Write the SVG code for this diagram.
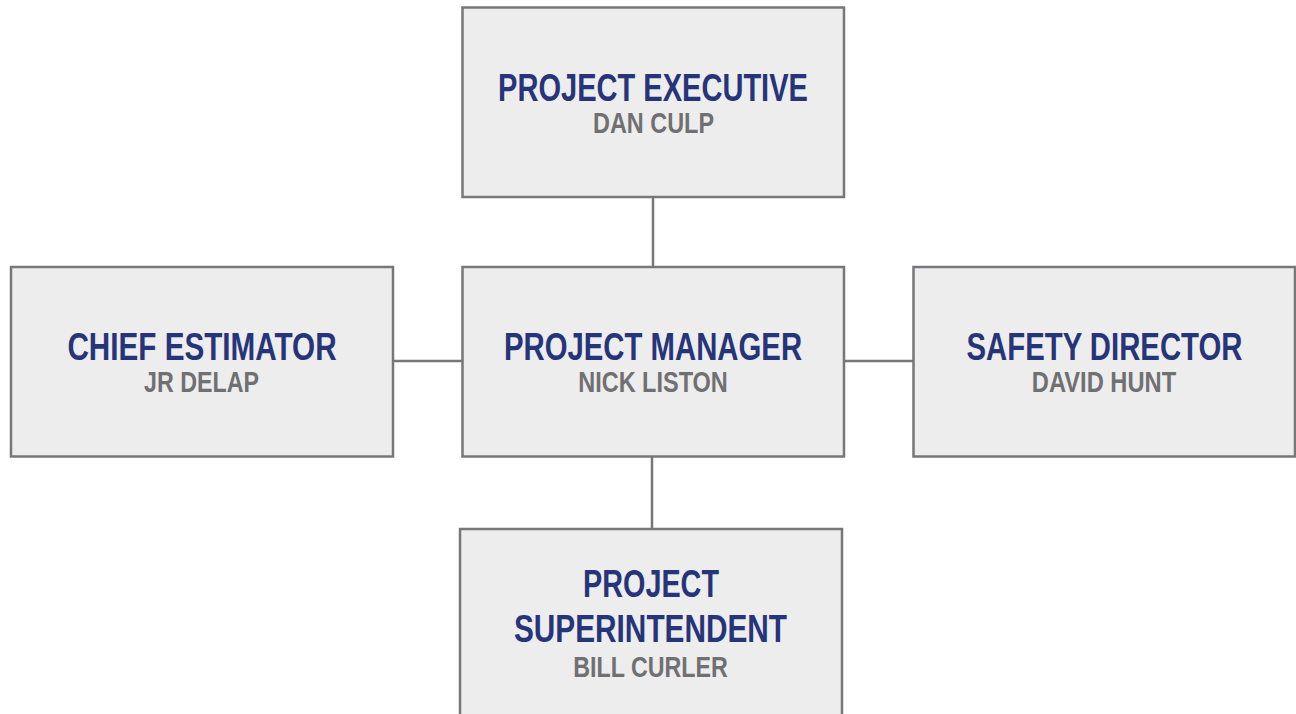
<svg xmlns="http://www.w3.org/2000/svg" width="1296" height="714" viewBox="0 0 1296 714">
<style>
.box{fill:#ededed;stroke:#77777a;stroke-width:2.5}
.conn{stroke:#77777a;stroke-width:2.5;fill:none}
.t{font-family:"Liberation Sans",Arial,sans-serif;font-weight:bold;font-size:39px;fill:#263479;text-anchor:middle}
.n{font-family:"Liberation Sans",Arial,sans-serif;font-weight:bold;font-size:29px;fill:#707073;text-anchor:middle}
</style>
<rect width="1296" height="714" fill="#ffffff"/>
<g id="connectors">
<line class="conn" x1="653" y1="197" x2="653" y2="267"/>
<line class="conn" x1="393" y1="361" x2="462" y2="361"/>
<line class="conn" x1="844" y1="361" x2="913" y2="361"/>
<line class="conn" x1="652" y1="456" x2="652" y2="529"/>
</g>
<g id="project-executive">
<rect class="box" x="462.5" y="7.5" width="381.5" height="189.5"/>
<text class="t" transform="translate(653,101) scale(0.745,1)">PROJECT EXECUTIVE</text>
<text class="n" transform="translate(653.5,133) scale(0.808,1)">DAN CULP</text>
</g>
<g id="chief-estimator">
<rect class="box" x="11" y="267" width="382" height="189.5"/>
<text class="t" transform="translate(202,360) scale(0.761,1)">CHIEF ESTIMATOR</text>
<text class="n" transform="translate(201.5,392) scale(0.802,1)">JR DELAP</text>
</g>
<g id="project-manager">
<rect class="box" x="462.5" y="267" width="381.5" height="189.5"/>
<text class="t" transform="translate(653,360) scale(0.752,1)">PROJECT MANAGER</text>
<text class="n" transform="translate(653,392) scale(0.81,1)">NICK LISTON</text>
</g>
<g id="safety-director">
<rect class="box" x="913.5" y="267" width="381.5" height="189.5"/>
<text class="t" transform="translate(1104.5,360) scale(0.752,1)">SAFETY DIRECTOR</text>
<text class="n" transform="translate(1104,392) scale(0.817,1)">DAVID HUNT</text>
</g>
<g id="project-superintendent">
<rect class="box" x="460" y="529" width="382" height="200"/>
<text class="t" transform="translate(651,597) scale(0.738,1)">PROJECT</text>
<text class="t" transform="translate(650.5,642) scale(0.764,1)">SUPERINTENDENT</text>
<text class="n" transform="translate(650.5,677) scale(0.802,1)">BILL CURLER</text>
</g>
</svg>
